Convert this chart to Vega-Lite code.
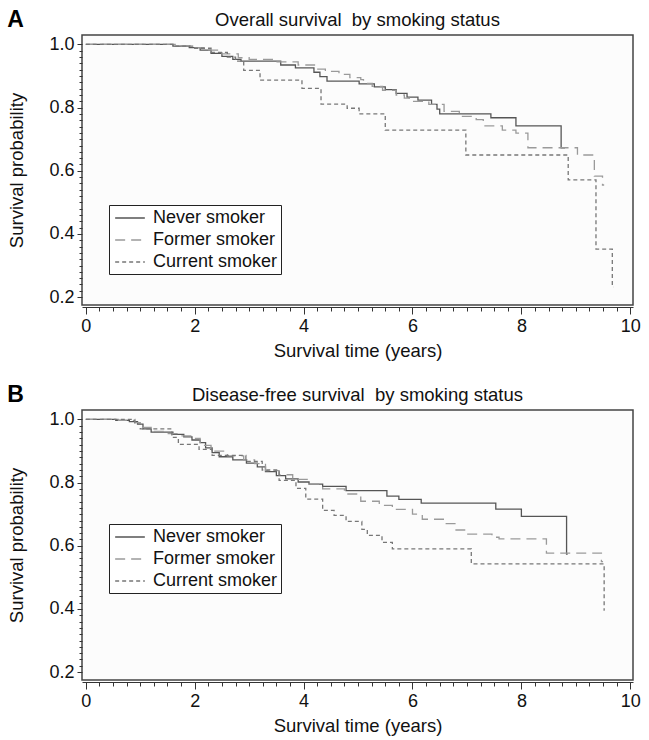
{
  "$schema": "https://vega.github.io/schema/vega-lite/v6.json",
  "padding": {"left": 7, "top": 8, "right": 3, "bottom": 2},
  "background": "white",
  "config": {
    "font": "Liberation Sans",
    "view": {"stroke": "#444444", "strokeWidth": 1.5, "fill": "#fcfcfc"},
    "title": {"font": "Liberation Sans", "fontSize": 18.5, "fontWeight": "normal", "color": "#111111", "offset": 6},
    "axis": {"labelFont": "Liberation Sans", "titleFont": "Liberation Sans", "labelFontSize": 18, "titleFontSize": 18.5, "titleFontWeight": "normal", "labelColor": "#111111", "titleColor": "#111111", "grid": false, "tickColor": "#333333", "domainColor": "#333333", "labelOverlap": false, "labelFlush": false},
    "legend": {"labelFont": "Liberation Sans", "labelFontSize": 18, "labelColor": "#111111"},
    "concat": {"spacing": 22}
  },
  "datasets": {
    "os": [
      {"group": "Never smoker", "t": 0, "s": 1.0},
      {"group": "Never smoker", "t": 1.6, "s": 0.995},
      {"group": "Never smoker", "t": 1.9, "s": 0.99},
      {"group": "Never smoker", "t": 2.1, "s": 0.982},
      {"group": "Never smoker", "t": 2.3, "s": 0.972},
      {"group": "Never smoker", "t": 2.5, "s": 0.962},
      {"group": "Never smoker", "t": 2.7, "s": 0.953},
      {"group": "Never smoker", "t": 2.85, "s": 0.947},
      {"group": "Never smoker", "t": 3.58, "s": 0.935},
      {"group": "Never smoker", "t": 3.85, "s": 0.926},
      {"group": "Never smoker", "t": 4.19, "s": 0.912},
      {"group": "Never smoker", "t": 4.3, "s": 0.898},
      {"group": "Never smoker", "t": 4.43, "s": 0.884},
      {"group": "Never smoker", "t": 5.02, "s": 0.875},
      {"group": "Never smoker", "t": 5.3, "s": 0.866},
      {"group": "Never smoker", "t": 5.5, "s": 0.857},
      {"group": "Never smoker", "t": 5.7, "s": 0.845},
      {"group": "Never smoker", "t": 5.9, "s": 0.833},
      {"group": "Never smoker", "t": 6.1, "s": 0.824},
      {"group": "Never smoker", "t": 6.35, "s": 0.81},
      {"group": "Never smoker", "t": 6.45, "s": 0.795},
      {"group": "Never smoker", "t": 6.5, "s": 0.78},
      {"group": "Never smoker", "t": 7.44, "s": 0.768},
      {"group": "Never smoker", "t": 7.9, "s": 0.742},
      {"group": "Never smoker", "t": 8.73, "s": 0.673},
      {"group": "Never smoker", "t": 8.8, "s": 0.673},
      {"group": "Former smoker", "t": 0, "s": 1.0},
      {"group": "Former smoker", "t": 1.7, "s": 0.996},
      {"group": "Former smoker", "t": 2.0, "s": 0.99},
      {"group": "Former smoker", "t": 2.2, "s": 0.982},
      {"group": "Former smoker", "t": 2.5, "s": 0.97},
      {"group": "Former smoker", "t": 2.8, "s": 0.958},
      {"group": "Former smoker", "t": 3.0, "s": 0.953},
      {"group": "Former smoker", "t": 3.5, "s": 0.945},
      {"group": "Former smoker", "t": 3.9, "s": 0.935},
      {"group": "Former smoker", "t": 4.2, "s": 0.922},
      {"group": "Former smoker", "t": 4.4, "s": 0.915},
      {"group": "Former smoker", "t": 4.65, "s": 0.905},
      {"group": "Former smoker", "t": 4.85, "s": 0.895},
      {"group": "Former smoker", "t": 5.05, "s": 0.889},
      {"group": "Former smoker", "t": 5.1, "s": 0.877},
      {"group": "Former smoker", "t": 5.26, "s": 0.867},
      {"group": "Former smoker", "t": 5.45, "s": 0.855},
      {"group": "Former smoker", "t": 5.7, "s": 0.84},
      {"group": "Former smoker", "t": 5.85, "s": 0.83},
      {"group": "Former smoker", "t": 5.94, "s": 0.82},
      {"group": "Former smoker", "t": 6.3, "s": 0.81},
      {"group": "Former smoker", "t": 6.58, "s": 0.788},
      {"group": "Former smoker", "t": 6.86, "s": 0.772},
      {"group": "Former smoker", "t": 7.17, "s": 0.762},
      {"group": "Former smoker", "t": 7.3, "s": 0.742},
      {"group": "Former smoker", "t": 7.65, "s": 0.729},
      {"group": "Former smoker", "t": 7.9, "s": 0.719},
      {"group": "Former smoker", "t": 8.12, "s": 0.673},
      {"group": "Former smoker", "t": 9.03, "s": 0.65},
      {"group": "Former smoker", "t": 9.34, "s": 0.583},
      {"group": "Former smoker", "t": 9.49, "s": 0.555},
      {"group": "Former smoker", "t": 9.52, "s": 0.555},
      {"group": "Current smoker", "t": 0, "s": 1.0},
      {"group": "Current smoker", "t": 1.6, "s": 0.995},
      {"group": "Current smoker", "t": 2.0, "s": 0.988},
      {"group": "Current smoker", "t": 2.3, "s": 0.975},
      {"group": "Current smoker", "t": 2.6, "s": 0.96},
      {"group": "Current smoker", "t": 2.75, "s": 0.947},
      {"group": "Current smoker", "t": 2.9, "s": 0.918},
      {"group": "Current smoker", "t": 3.2, "s": 0.887},
      {"group": "Current smoker", "t": 3.97, "s": 0.861},
      {"group": "Current smoker", "t": 4.32, "s": 0.811},
      {"group": "Current smoker", "t": 4.8, "s": 0.798},
      {"group": "Current smoker", "t": 5.02, "s": 0.78},
      {"group": "Current smoker", "t": 5.5, "s": 0.729},
      {"group": "Current smoker", "t": 6.98, "s": 0.65},
      {"group": "Current smoker", "t": 8.86, "s": 0.571},
      {"group": "Current smoker", "t": 9.37, "s": 0.352},
      {"group": "Current smoker", "t": 9.67, "s": 0.232},
      {"group": "Current smoker", "t": 9.69, "s": 0.232}
    ],
    "dfs": [
      {"group": "Never smoker", "t": 0, "s": 1.0},
      {"group": "Never smoker", "t": 0.55, "s": 0.997},
      {"group": "Never smoker", "t": 0.8, "s": 0.993},
      {"group": "Never smoker", "t": 0.95, "s": 0.985},
      {"group": "Never smoker", "t": 1.05, "s": 0.97},
      {"group": "Never smoker", "t": 1.2, "s": 0.96},
      {"group": "Never smoker", "t": 1.6, "s": 0.953},
      {"group": "Never smoker", "t": 1.8, "s": 0.945},
      {"group": "Never smoker", "t": 1.95, "s": 0.935},
      {"group": "Never smoker", "t": 2.1, "s": 0.927},
      {"group": "Never smoker", "t": 2.2, "s": 0.91},
      {"group": "Never smoker", "t": 2.32, "s": 0.895},
      {"group": "Never smoker", "t": 2.45, "s": 0.882},
      {"group": "Never smoker", "t": 2.7, "s": 0.872},
      {"group": "Never smoker", "t": 2.95, "s": 0.862},
      {"group": "Never smoker", "t": 3.15, "s": 0.85},
      {"group": "Never smoker", "t": 3.3, "s": 0.835},
      {"group": "Never smoker", "t": 3.5, "s": 0.822},
      {"group": "Never smoker", "t": 3.67, "s": 0.812},
      {"group": "Never smoker", "t": 3.9, "s": 0.802},
      {"group": "Never smoker", "t": 4.1, "s": 0.795},
      {"group": "Never smoker", "t": 4.35, "s": 0.788},
      {"group": "Never smoker", "t": 4.78, "s": 0.775},
      {"group": "Never smoker", "t": 5.53, "s": 0.757},
      {"group": "Never smoker", "t": 5.75, "s": 0.747},
      {"group": "Never smoker", "t": 6.16, "s": 0.735},
      {"group": "Never smoker", "t": 7.53, "s": 0.716},
      {"group": "Never smoker", "t": 8.0, "s": 0.693},
      {"group": "Never smoker", "t": 8.83, "s": 0.574},
      {"group": "Never smoker", "t": 8.85, "s": 0.574},
      {"group": "Former smoker", "t": 0, "s": 1.0},
      {"group": "Former smoker", "t": 0.6, "s": 0.997},
      {"group": "Former smoker", "t": 0.9, "s": 0.99},
      {"group": "Former smoker", "t": 1.0, "s": 0.975},
      {"group": "Former smoker", "t": 1.2, "s": 0.962},
      {"group": "Former smoker", "t": 1.5, "s": 0.955},
      {"group": "Former smoker", "t": 1.7, "s": 0.948},
      {"group": "Former smoker", "t": 2.0, "s": 0.94},
      {"group": "Former smoker", "t": 2.1, "s": 0.918},
      {"group": "Former smoker", "t": 2.3, "s": 0.9},
      {"group": "Former smoker", "t": 2.6, "s": 0.885},
      {"group": "Former smoker", "t": 2.9, "s": 0.872},
      {"group": "Former smoker", "t": 3.1, "s": 0.86},
      {"group": "Former smoker", "t": 3.3, "s": 0.838},
      {"group": "Former smoker", "t": 3.55, "s": 0.825},
      {"group": "Former smoker", "t": 3.8, "s": 0.81},
      {"group": "Former smoker", "t": 4.1, "s": 0.795},
      {"group": "Former smoker", "t": 4.35, "s": 0.78},
      {"group": "Former smoker", "t": 4.75, "s": 0.764},
      {"group": "Former smoker", "t": 5.05, "s": 0.741},
      {"group": "Former smoker", "t": 5.39, "s": 0.728},
      {"group": "Former smoker", "t": 5.63, "s": 0.715},
      {"group": "Former smoker", "t": 6.0, "s": 0.7},
      {"group": "Former smoker", "t": 6.18, "s": 0.684},
      {"group": "Former smoker", "t": 6.62, "s": 0.67},
      {"group": "Former smoker", "t": 6.8, "s": 0.65},
      {"group": "Former smoker", "t": 6.99, "s": 0.637},
      {"group": "Former smoker", "t": 7.46, "s": 0.627},
      {"group": "Former smoker", "t": 7.59, "s": 0.622},
      {"group": "Former smoker", "t": 8.46, "s": 0.577},
      {"group": "Former smoker", "t": 9.47, "s": 0.55},
      {"group": "Former smoker", "t": 9.5, "s": 0.55},
      {"group": "Current smoker", "t": 0, "s": 1.0},
      {"group": "Current smoker", "t": 0.9, "s": 0.985},
      {"group": "Current smoker", "t": 1.0, "s": 0.97},
      {"group": "Current smoker", "t": 1.58, "s": 0.943},
      {"group": "Current smoker", "t": 1.7, "s": 0.921},
      {"group": "Current smoker", "t": 2.08, "s": 0.905},
      {"group": "Current smoker", "t": 2.32, "s": 0.886},
      {"group": "Current smoker", "t": 2.94, "s": 0.867},
      {"group": "Current smoker", "t": 3.24, "s": 0.84},
      {"group": "Current smoker", "t": 3.55, "s": 0.807},
      {"group": "Current smoker", "t": 3.86, "s": 0.782},
      {"group": "Current smoker", "t": 4.04, "s": 0.748},
      {"group": "Current smoker", "t": 4.35, "s": 0.712},
      {"group": "Current smoker", "t": 4.56, "s": 0.696},
      {"group": "Current smoker", "t": 4.78, "s": 0.677},
      {"group": "Current smoker", "t": 5.07, "s": 0.652},
      {"group": "Current smoker", "t": 5.17, "s": 0.633},
      {"group": "Current smoker", "t": 5.44, "s": 0.611},
      {"group": "Current smoker", "t": 5.63, "s": 0.59},
      {"group": "Current smoker", "t": 7.08, "s": 0.543},
      {"group": "Current smoker", "t": 9.52, "s": 0.396},
      {"group": "Current smoker", "t": 9.53, "s": 0.396}
    ]
  },
  "resolve": {"scale": {"color": "independent", "strokeDash": "independent"}},
  "vconcat": [
    {
      "title": {"text": "A", "anchor": "start", "frame": "bounds", "fontSize": 23, "fontWeight": "bold", "offset": -22, "color": "#000000"},
      "resolve": {"scale": {"color": "independent", "strokeDash": "independent"}},
      "vconcat": [
        {
          "title": "Overall survival\u00a0 by smoking status",
          "width": 551,
          "height": 270,
          "data": {"name": "os"},
          "mark": {"type": "line", "interpolate": "step-after", "strokeWidth": 1.3, "clip": true},
          "encoding": {
            "x": {"field": "t", "type": "quantitative", "scale": {"domain": [-0.07, 10.05], "nice": false, "zero": false},
              "axis": {"title": "Survival time (years)", "values": [0,0.25,0.5,0.75,1,1.25,1.5,1.75,2,2.25,2.5,2.75,3,3.25,3.5,3.75,4,4.25,4.5,4.75,5,5.25,5.5,5.75,6,6.25,6.5,6.75,7,7.25,7.5,7.75,8,8.25,8.5,8.75,9,9.25,9.5,9.75,10],
                "labelExpr": "datum.value % 2 === 0 ? format(datum.value, 'd') : ''",
                "tickSize": {"condition": {"test": "datum.value % 2 === 0", "value": 7}, "value": 4},
                "offset": 2, "labelPadding": 3, "titlePadding": 6}},
            "y": {"field": "s", "type": "quantitative", "scale": {"domain": [0.175, 1.03], "nice": false, "zero": false},
              "axis": {"title": "Survival probability", "values": [0.2,0.22,0.24,0.26,0.28,0.3,0.32,0.34,0.36,0.38,0.4,0.42,0.44,0.46,0.48,0.5,0.52,0.54,0.56,0.58,0.6,0.62,0.64,0.66,0.68,0.7,0.72,0.74,0.76,0.78,0.8,0.82,0.84,0.86,0.88,0.9,0.92,0.94,0.96,0.98,1.0],
                "labelExpr": "abs(datum.value * 5 - round(datum.value * 5)) < 0.001 ? format(datum.value, '.1f') : ''",
                "tickSize": {"condition": {"test": "abs(datum.value * 5 - round(datum.value * 5)) < 0.001", "value": 5}, "value": 3},
                "domain": false, "labelPadding": 3, "titlePadding": 22}},
            "color": {"field": "group", "type": "nominal", "scale": {"domain": ["Never smoker", "Former smoker", "Current smoker"], "range": ["#555555", "#9a9a9a", "#777777"]},
              "legend": {"title": null, "orient": "none", "legendX": 27, "legendY": 170, "symbolType": "M-1.65,0H1.65", "symbolSize": 324, "symbolStrokeWidth": 1.3, "symbolFillColor": "transparent", "symbolOffset": 8, "strokeColor": "#222222", "fillColor": "#ffffff", "padding": 3, "rowPadding": 3, "labelOffset": 13}},
            "strokeDash": {"field": "group", "type": "nominal", "scale": {"domain": ["Never smoker", "Former smoker", "Current smoker"], "range": [[1, 0], [10, 6], [4, 3]]},
              "legend": {"title": null, "orient": "none", "legendX": 27, "legendY": 170, "symbolType": "M-1.65,0H1.65", "symbolSize": 324, "symbolStrokeWidth": 1.3, "symbolFillColor": "transparent", "symbolOffset": 8, "strokeColor": "#222222", "fillColor": "#ffffff", "padding": 3, "rowPadding": 3, "labelOffset": 13}}
          }
        }
      ]
    },
    {
      "title": {"text": "B", "anchor": "start", "frame": "bounds", "fontSize": 23, "fontWeight": "bold", "offset": -22, "color": "#000000"},
      "resolve": {"scale": {"color": "independent", "strokeDash": "independent"}},
      "vconcat": [
        {
          "title": "Disease-free survival\u00a0 by smoking status",
          "width": 551,
          "height": 270,
          "data": {"name": "dfs"},
          "mark": {"type": "line", "interpolate": "step-after", "strokeWidth": 1.3, "clip": true},
          "encoding": {
            "x": {"field": "t", "type": "quantitative", "scale": {"domain": [-0.07, 10.05], "nice": false, "zero": false},
              "axis": {"title": "Survival time (years)", "values": [0,0.25,0.5,0.75,1,1.25,1.5,1.75,2,2.25,2.5,2.75,3,3.25,3.5,3.75,4,4.25,4.5,4.75,5,5.25,5.5,5.75,6,6.25,6.5,6.75,7,7.25,7.5,7.75,8,8.25,8.5,8.75,9,9.25,9.5,9.75,10],
                "labelExpr": "datum.value % 2 === 0 ? format(datum.value, 'd') : ''",
                "tickSize": {"condition": {"test": "datum.value % 2 === 0", "value": 7}, "value": 4},
                "offset": 2, "labelPadding": 3, "titlePadding": 6}},
            "y": {"field": "s", "type": "quantitative", "scale": {"domain": [0.175, 1.03], "nice": false, "zero": false},
              "axis": {"title": "Survival probability", "values": [0.2,0.22,0.24,0.26,0.28,0.3,0.32,0.34,0.36,0.38,0.4,0.42,0.44,0.46,0.48,0.5,0.52,0.54,0.56,0.58,0.6,0.62,0.64,0.66,0.68,0.7,0.72,0.74,0.76,0.78,0.8,0.82,0.84,0.86,0.88,0.9,0.92,0.94,0.96,0.98,1.0],
                "labelExpr": "abs(datum.value * 5 - round(datum.value * 5)) < 0.001 ? format(datum.value, '.1f') : ''",
                "tickSize": {"condition": {"test": "abs(datum.value * 5 - round(datum.value * 5)) < 0.001", "value": 5}, "value": 3},
                "domain": false, "labelPadding": 3, "titlePadding": 22}},
            "color": {"field": "group", "type": "nominal", "scale": {"domain": ["Never smoker", "Former smoker", "Current smoker"], "range": ["#555555", "#9a9a9a", "#777777"]},
              "legend": {"title": null, "orient": "none", "legendX": 27, "legendY": 114, "symbolType": "M-1.65,0H1.65", "symbolSize": 324, "symbolStrokeWidth": 1.3, "symbolFillColor": "transparent", "symbolOffset": 8, "strokeColor": "#222222", "fillColor": "#ffffff", "padding": 3, "rowPadding": 3, "labelOffset": 13}},
            "strokeDash": {"field": "group", "type": "nominal", "scale": {"domain": ["Never smoker", "Former smoker", "Current smoker"], "range": [[1, 0], [10, 6], [4, 3]]},
              "legend": {"title": null, "orient": "none", "legendX": 27, "legendY": 114, "symbolType": "M-1.65,0H1.65", "symbolSize": 324, "symbolStrokeWidth": 1.3, "symbolFillColor": "transparent", "symbolOffset": 8, "strokeColor": "#222222", "fillColor": "#ffffff", "padding": 3, "rowPadding": 3, "labelOffset": 13}}
          }
        }
      ]
    }
  ]
}
